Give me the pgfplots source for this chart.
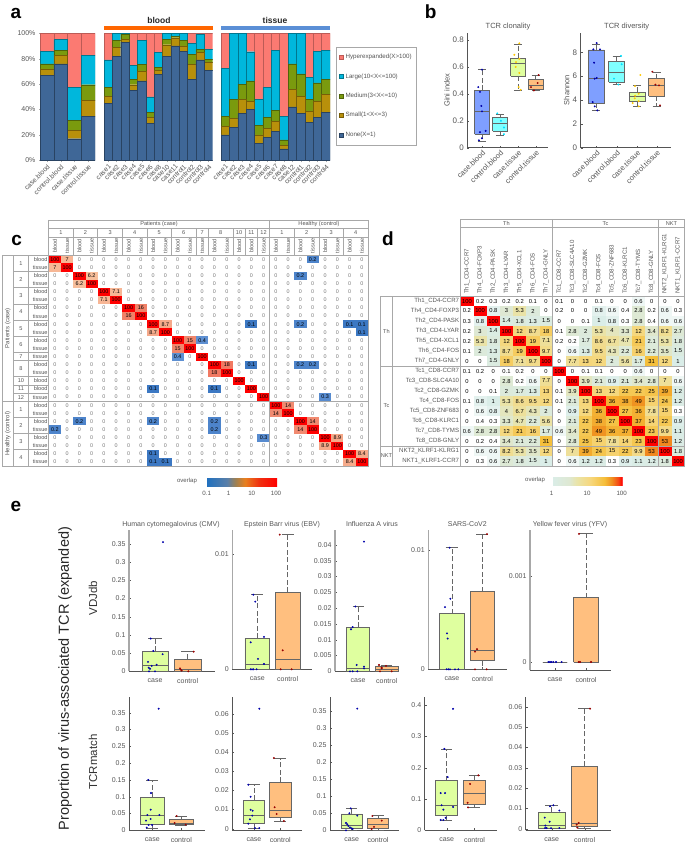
\documentclass[border=0pt]{standalone}
\usepackage{fontspec}
\setmainfont{Liberation Sans}
\usepackage{pgfplots}
\usepackage{pgfplotstable}
\pgfplotsset{compat=1.18}
\definecolor{cNone}{HTML}{3F6797}
\definecolor{cSmall}{HTML}{B8900B}
\definecolor{cMedium}{HTML}{7A9A0E}
\definecolor{cLarge}{HTML}{00B7DC}
\definecolor{cHyper}{HTML}{FB7A72}
\definecolor{txt}{HTML}{555555}
\definecolor{grid}{HTML}{A8A8A8}
\definecolor{boxedge}{HTML}{666666}
\definecolor{fCB}{HTML}{7F9FFF}
\definecolor{fCtB}{HTML}{7FFFFF}
\definecolor{fCT}{HTML}{DFFF9F}
\definecolor{fCtT}{HTML}{FFBF7F}
\definecolor{pCB}{HTML}{0000AA}
\definecolor{pCtB}{HTML}{00E0FF}
\definecolor{pCT}{HTML}{FFC800}
\definecolor{pCtT}{HTML}{990000}
\newcommand{\fsz}[1]{\fontsize{#1}{#1}\selectfont}
\pgfplotsset{
 place/.style n args={4}{at={(#1pt,-#2pt)},anchor=south west,width=#3pt,height=#4pt,scale only axis},
 every axis/.append style={/pgf/number format/assume math mode=true},
 colormap={cellc}{rgb255(0pt)=(255,255,255) rgb255(4pt)=(255,255,255) rgb255(5pt)=(60,120,195) rgb255(11pt)=(94,144,210) rgb255(15pt)=(160,150,170) rgb255(23pt)=(248,190,155) rgb255(27pt)=(240,130,105) rgb255(35pt)=(255,0,0)},
 colormap={cbarc}{rgb255(0pt)=(30,112,192) rgb255(30pt)=(90,127,168) rgb255(42pt)=(160,128,80) rgb255(55pt)=(232,128,32) rgb255(75pt)=(240,48,16) rgb255(100pt)=(255,0,0)},
 colormap={celld}{rgb255(0pt)=(255,255,255) rgb255(6pt)=(255,255,255) rgb255(10pt)=(218,237,232) rgb255(15pt)=(222,232,210) rgb255(17pt)=(233,228,170) rgb255(21pt)=(246,215,124) rgb255(25pt)=(245,190,58) rgb255(27pt)=(240,145,32) rgb255(29pt)=(245,70,20) rgb255(30pt)=(255,0,0)},
 colormap={cbard}{rgb255(0pt)=(218,237,232) rgb255(5pt)=(222,232,210) rgb255(7pt)=(233,228,170) rgb255(11pt)=(246,215,124) rgb255(15pt)=(245,190,58) rgb255(17pt)=(240,145,32) rgb255(19pt)=(245,70,20) rgb255(20pt)=(255,0,0)},
 barsA/.style={ybar stacked, ymin=0, ymax=100, axis x line*=bottom, xmin=-0.5,
   tick label style={color=txt,font=\fsz{7}}, xtick align=outside, xtick pos=bottom,
   xticklabel style={rotate=45,anchor=north east,font=\fsz{6.8},inner sep=1pt},
   x axis line style={color=grid}, tick style={color=grid}, major tick length=2pt,
   every axis plot/.append style={line width=0.4pt}},
 barsNoY/.style={barsA, axis y line=none},
 sB/.style={fill=cNone,draw=cNone!65!black}, sS/.style={fill=cSmall,draw=cSmall!65!black},
 sM/.style={fill=cMedium,draw=cMedium!65!black}, sL/.style={fill=cLarge,draw=cLarge!65!black},
 sH/.style={fill=cHyper,draw=cHyper!75!black},
 bxb/.style={axis lines=left, axis line style={-,color=txt,line width=0.5pt}, tick align=inside,
   tick style={color=txt}, major tick length=2pt, tick label style={color=txt,font=\fsz{8}},
   xticklabel style={rotate=45,anchor=north east,font=\fsz{7.5},inner sep=1pt}, enlargelimits=false, clip=false, ytick pos=left, xtick pos=bottom},
 bxe/.style={axis lines=left, axis line style={-}, tick align=inside,
   tick style={color=txt}, major tick length=2pt, tick label style={color=txt,font=\fsz{7}},
   enlargelimits=false, clip=false, scaled y ticks=false, ytick pos=left, xtick pos=bottom,
   yticklabel style={/pgf/number format/fixed,/pgf/number format/precision=3},
   xticklabel style={yshift=-4pt},
   xticklabels={case,control}},
 rowone/.style={bxe, x axis line style={color=txt,line width=0.5pt}, y axis line style={color=grid,line width=1.2pt}},
 rowtwo/.style={bxe, x axis line style={color=txt,line width=0.5pt}, y axis line style={color=txt,line width=0.5pt}},
 heat/.style={hide axis, y dir=reverse, clip=false, enlargelimits=false},
 cellplot/.style={scatter, only marks, point meta=explicit},
 cellnum/.style={only marks, mark=none, point meta=explicit symbolic,
   every node near coord/.append style={anchor=center,inner sep=0pt,font=\fsz{#1},text=black}},
}
% draw position, box width, cap width, lower whisker, q1, median, q3, upper whisker, fill
\newcommand{\bx}[9]{%
 \pgfmathsetmacro\bxXa{#1-#2/2}\pgfmathsetmacro\bxXb{#1+#2/2}%
 \pgfmathsetmacro\bxCa{#1-#3/2}\pgfmathsetmacro\bxCb{#1+#3/2}%
 \addplot[draw=boxedge,line width=0.7pt,dash pattern=on 5pt off 2.5pt] coordinates {(#1,#5)(#1,#4)};
 \addplot[draw=boxedge,line width=0.7pt,dash pattern=on 5pt off 2.5pt] coordinates {(#1,#7)(#1,#8)};
 \addplot[draw=boxedge,line width=0.7pt] coordinates {(\bxCa,#4)(\bxCb,#4)};
 \addplot[draw=boxedge,line width=0.7pt] coordinates {(\bxCa,#8)(\bxCb,#8)};
 \addplot[fill=#9,draw=boxedge,line width=0.7pt] coordinates {(\bxXa,#5)(\bxXb,#5)(\bxXb,#7)(\bxXa,#7)(\bxXa,#5)};
 \addplot[draw=boxedge,line width=0.7pt] coordinates {(\bxXa,#6)(\bxXb,#6)};
}
\newcommand{\pts}[2]{\addplot[only marks, mark=*, mark size=0.75pt, color=#1] coordinates {#2};}
\pgfdeclareplotmark{cellc}{\pgfsetfillcolor{mapped color}\pgfpathrectangle{\pgfqpoint{-6.14pt}{-4.05pt}}{\pgfqpoint{12.28pt}{8.1pt}}\pgfusepathqfill}
\pgfdeclareplotmark{celld}{\pgfsetfillcolor{mapped color}\pgfpathrectangle{\pgfqpoint{-6.6pt}{-5pt}}{\pgfqpoint{13.2pt}{10pt}}\pgfusepathqfill}

\pgfplotstableread{
none small medium large hyper
67 5 4 10 14
76 6.5 4 8.5 5
17 6.5 8 26 42.5
34.5 12.5 12.5 23 17.5
}\tabAleft
\pgfplotstableread{
none small medium large hyper
45 5.5 7 21.5 21
82 7 5.5 5.5 0
93 2.5 3.5 1 0
55 4.5 4 11.5 25
62.5 7.5 5.5 19 5.5
29 5 4 12 50
67.5 3.5 2 12 15
82 9 4.5 4.5 0
90 6.5 1 2.5 0
86 4 4.5 5.5 0
63.5 12 8 8.5 8
79 6 2.5 12 0.5
71 6 2.5 8 12.5
}\tabAblood
\pgfplotstableread{
none small medium large hyper
20 6.5 8 38 27.5
26 7 15 52 0
37 11 12 40 0
40 6.5 16 23 14.5
13.5 6.5 7.5 20.5 52
18 7 9 23.5 42.5
23 7.5 9 47 13.5
9 3 4 18.5 65.5
42 14 20 24 0
37 13.5 17.5 32 0
30 8.5 9.5 17.5 34.5
34 12.5 14.5 25 14
38 14 12 22.5 13.5
}\tabAtissue
\pgfplotstableread{
c0 c1 c2 c3 c4 c5 c6 c7 c8 c9 c10 c11 c12 c13 c14 c15 c16 c17 c18 c19 c20 c21 c22 c23 c24 c25
100 7 0 0 0 0  0 0 0 0 0 0  0 0 0 0 0 0  0 0 0 0.2 0 0 0 0
7 100 0 0 0 0  0 0 0 0 0 0  0 0 0 0 0 0  0 0 0 0 0 0 0 0
0 0 100 6.2 0 0  0 0 0 0 0 0  0 0 0 0 0 0  0 0 0.2 0 0 0 0 0
0 0 6.2 100 0 0  0 0 0 0 0 0  0 0 0 0 0 0  0 0 0 0 0 0 0 0
0 0 0 0 100 7.1  0 0 0 0 0 0  0 0 0 0 0 0  0 0 0 0 0 0 0 0
0 0 0 0 7.1 100  0 0 0 0 0 0  0 0 0 0 0 0  0 0 0 0 0 0 0 0
0 0 0 0 0 0  100 16 0 0 0 0  0 0 0 0 0 0  0 0 0 0 0 0 0 0
0 0 0 0 0 0  16 100 0 0 0 0  0 0 0 0 0 0  0 0 0 0 0 0 0 0
0 0 0 0 0 0  0 0 100 8.7 0 0  0 0 0 0 0.1 0  0 0 0.2 0 0 0 0.1 0.1
0 0 0 0 0 0  0 0 8.7 100 0 0  0 0 0 0 0 0  0 0 0 0 0 0 0 0.1
0 0 0 0 0 0  0 0 0 0 100 15  0.4 0 0 0 0 0  0 0 0 0 0 0 0 0
0 0 0 0 0 0  0 0 0 0 15 100  0 0 0 0 0 0  0 0 0 0 0 0 0 0
0 0 0 0 0 0  0 0 0 0 0.4 0  100 0 0 0 0 0  0 0 0 0 0 0 0 0
0 0 0 0 0 0  0 0 0 0 0 0  0 100 18 0 0.1 0  0 0 0.2 0.2 0 0 0 0
0 0 0 0 0 0  0 0 0 0 0 0  0 18 100 0 0 0  0 0 0 0 0 0 0 0
0 0 0 0 0 0  0 0 0 0 0 0  0 0 0 100 0 0  0 0 0 0 0 0 0 0
0 0 0 0 0 0  0 0 0.1 0 0 0  0 0.1 0 0 100 0  0 0 0 0 0 0 0 0
0 0 0 0 0 0  0 0 0 0 0 0  0 0 0 0 0 100  0 0 0 0 0.3 0 0 0
0 0 0 0 0 0  0 0 0 0 0 0  0 0 0 0 0 0  100 14 0 0 0 0 0 0
0 0 0 0 0 0  0 0 0 0 0 0  0 0 0 0 0 0  14 100 0 0 0 0 0 0
0 0 0.2 0 0 0  0 0 0.2 0 0 0  0 0.2 0 0 0 0  0 0 100 14 0 0 0 0
0.2 0 0 0 0 0  0 0 0 0 0 0  0 0.2 0 0 0 0  0 0 14 100 0 0 0 0
0 0 0 0 0 0  0 0 0 0 0 0  0 0 0 0 0 0.3  0 0 0 0 100 8.9 0 0
0 0 0 0 0 0  0 0 0 0 0 0  0 0 0 0 0 0  0 0 0 0 8.9 100 0 0
0 0 0 0 0 0  0 0 0.1 0 0 0  0 0 0 0 0 0  0 0 0 0 0 0 100 8.4
0 0 0 0 0 0  0 0 0.1 0.1 0 0  0 0 0 0 0 0  0 0 0 0 0 0 8.4 100
}\tabC
\pgfplotstableread{
c0 c1 c2 c3 c4 c5 c6 c7 c8 c9 c10 c11 c12 c13 c14 c15 c16
100 0.2 0.3 0.2 0.2 0.1 0  0.1 0 0 0.1 0 0 0.6 0  0 0
0.2 100 0.8 3 5.3 2 0  0.2 0 0 0.8 0.6 0.4 2.8 0.2  0.6 0.3
0.3 0.8 100 1.4 1.8 1.3 1.5  0 0 0.1 1 0.8 0.3 2.8 0.4  0.6 0.6
0.2 3 1.4 100 12 8.7 18  0.1 2.8 2 5.3 4 3.3 12 3.4  8.2 2.7
0.2 5.3 1.8 12 100 19 7.1  0.2 0.2 1.7 8.6 6.7 4.7 21 2.1  5.3 1.8
0.1 2 1.3 8.7 19 100 9.7  0 0.6 1.3 9.5 4.3 2.2 16 2.2  3.5 1.5
0 0 1.5 18 7.1 9.7 100  0 7.7 13 12 2 5.6 1.7 31  12 1
0.1 0.2 0 0.1 0.2 0 0  100 0 0.1 0.1 0 0 0.6 0  0 0
0 0 0 2.8 0.2 0.6 7.7  0 100 3.9 2.1 0.9 2.1 3.4 2.8  7 0.6
0 0 0.1 2 1.7 1.3 13  0.1 3.9 100 13 12 22 22 25  39 1.2
0.1 0.8 1 5.3 8.6 9.5 12  0.1 2.1 13 100 36 38 49 15  24 1.2
0 0.6 0.8 4 6.7 4.3 2  0 0.9 12 36 100 27 36 7.8  15 0.3
0 0.4 0.3 3.3 4.7 2.2 5.6  0 2.1 22 38 27 100 37 14  22 0.9
0.6 2.8 2.8 12 21 16 1.7  0.6 3.4 22 49 36 37 100 23  9.9 1.1
0 0.2 0.4 3.4 2.1 2.2 31  0 2.8 25 15 7.8 14 23 100  53 1.2
0 0.6 0.6 8.2 5.3 3.5 12  0 7 39 24 15 22 9.9 53  100 1.8
0 0.3 0.6 2.7 1.8 1.5 1  0 0.6 1.2 1.2 0.3 0.9 1.1 1.2  1.8 100
}\tabD

\begin{document}
\begin{tikzpicture}
\useasboundingbox (0pt,0pt) rectangle (685pt,-842pt);
% ---------------- panel a
\begin{axis}[place={40}{160.3}{55}{127}, barsA, xmax=3.5, bar width=13.75pt, axis y line=left, y axis line style={color=grid,-}, ytick={0,20,40,60,80,100},
  yticklabel={\pgfmathprintnumber{\tick}\%}, xtick={0,1,2,3}, xticklabels={case.blood,control.blood,case.tissue,control.tissue}]
\addplot[sB] table[x expr=\coordindex,y=none]{\tabAleft};
\addplot[sS] table[x expr=\coordindex,y=small]{\tabAleft};
\addplot[sM] table[x expr=\coordindex,y=medium]{\tabAleft};
\addplot[sL] table[x expr=\coordindex,y=large]{\tabAleft};
\addplot[sH] table[x expr=\coordindex,y=hyper]{\tabAleft};
\end{axis}
\begin{axis}[place={104}{160.3}{108.7}{127}, barsNoY, xmax=12.5, bar width=8.36pt, xtick={0,...,12},
  xticklabels={case1,case2,case3,case4,case5,case6,case8,case10,case11,control1,control2,control3,control4}]
\addplot[sB] table[x expr=\coordindex,y=none]{\tabAblood};
\addplot[sS] table[x expr=\coordindex,y=small]{\tabAblood};
\addplot[sM] table[x expr=\coordindex,y=medium]{\tabAblood};
\addplot[sL] table[x expr=\coordindex,y=large]{\tabAblood};
\addplot[sH] table[x expr=\coordindex,y=hyper]{\tabAblood};
\end{axis}
\begin{axis}[place={221}{160.3}{109}{127}, barsNoY, xmax=12.5, bar width=8.38pt, xtick={0,...,12},
  xticklabels={case1,case2,case3,case4,case5,case6,case7,case8,case12,control1,control2,control3,control4},
  reverse legend, legend cell align=left,
  legend style={at={(1.055,0.892)},anchor=north west,draw=grid,font=\fsz{6.2},text=txt,row sep=9.4pt,inner xsep=3pt,inner ysep=5pt,/tikz/every even column/.append style={column sep=1pt}},
  legend image code/.code={\draw[#1] (0cm,-0.07cm) rectangle (0.14cm,0.07cm);}]
\addplot[sB] table[x expr=\coordindex,y=none]{\tabAtissue};
\addplot[sS] table[x expr=\coordindex,y=small]{\tabAtissue};
\addplot[sM] table[x expr=\coordindex,y=medium]{\tabAtissue};
\addplot[sL] table[x expr=\coordindex,y=large]{\tabAtissue};
\addplot[sH] table[x expr=\coordindex,y=hyper]{\tabAtissue};
\legend{None(X=1),Small(1<X<=3),Medium(3<X<=10),Large(10<X<=100),Hyperexpanded(X>100)}
\end{axis}
% ---------------- panel b
\begin{axis}[place={467.3}{147.7}{81}{115}, bxb, xmin=142, xmax=385, ymin=0, ymax=0.854, ytick={0,0.2,0.4,0.6,0.8}, xtick={186,240,294,347}, xticklabels={case.blood,control.blood,case.tissue,control.tissue}]
\bx{186}{44}{24}{0.05}{0.10}{0.27}{0.425}{0.58}{fCB}
\bx{240}{44}{24}{0.095}{0.125}{0.18}{0.225}{0.25}{fCtB}
\bx{294}{44}{24}{0.425}{0.53}{0.63}{0.665}{0.77}{fCT}
\bx{347}{44}{24}{0.425}{0.435}{0.465}{0.51}{0.54}{fCtT}
\pts{pCB}{(177,0.055)(186,0.07)(180,0.115)(197,0.125)(186,0.27)(184,0.31)(180,0.415)(175,0.45)(186,0.58)}
\pts{pCtB}{(252,0.1)(252,0.15)(243,0.2)(232,0.255)}
\pts{pCT}{(302,0.43)(296,0.45)(298,0.555)(287,0.6)(288,0.635)(298,0.66)(283,0.69)(298,0.775)}
\pts{pCtT}{(342,0.425)(333,0.45)(353,0.48)(356,0.54)}
\end{axis}
\begin{axis}[place={580.7}{147.7}{90}{115}, bxb, xmin=482, xmax=752, ymin=0, ymax=9.65, ytick={0,2,4,6,8}, xtick={529,590,651,710}, xticklabels={case.blood,control.blood,case.tissue,control.tissue}]
\bx{529}{48}{24}{3.15}{3.75}{5.8}{8.2}{8.7}{fCB}
\bx{590}{48}{24}{5.3}{5.5}{6.3}{7.25}{7.7}{fCtB}
\bx{651}{48}{24}{3.45}{3.85}{4.3}{4.65}{5.2}{fCT}
\bx{710}{48}{24}{3.5}{4.35}{5.2}{5.8}{6.35}{fCtT}
\pts{pCB}{(532,3.13)(524,3.47)(518,3.83)(524,5.79)(530,5.85)(522,7.13)(540,8.25)(520,8.25)(530,8.78)}
\pts{pCtB}{(595,5.3)(582,5.8)(605,7.0)(603,7.7)}
\pts{pCT}{(656,3.47)(638,3.75)(656,3.9)(644,4.14)(645,4.36)(656,4.53)(645,5.17)(661,6.1)}
\pts{pCtT}{(720,3.55)(717,5.23)(706,5.29)(697,6.38)}
\end{axis}
% ---------------- panel c
\begin{axis}[place={48.7}{466}{319.3}{210.7}, heat, xmin=-0.5, xmax=25.5, ymin=-0.5, ymax=25.5, colormap name=cellc, point meta min=-1.5, point meta max=2]
\pgfplotsinvokeforeach{0,...,25}{
\addplot[cellplot, mark=cellc] table[x expr=#1, y expr=\coordindex, meta expr={log10(max(\thisrow{c#1},0.03))}]{\tabC};
}
\pgfplotsinvokeforeach{0,...,25}{
\addplot[cellnum=5.4, nodes near coords={\ifnum\strcmp{\pgfplotspointmeta}{0}=0 \textcolor{txt!80}{0}\else\pgfplotspointmeta\fi}]
  table[x expr=#1, y expr=\coordindex, meta=c#1]{\tabC};
}
\end{axis}
% ---------------- panel d
\begin{axis}[place={460.3}{466}{224.4}{170}, heat, xmin=-0.5, xmax=16.5, ymin=-0.5, ymax=16.5, colormap name=celld, point meta min=-1, point meta max=2]
\pgfplotsinvokeforeach{0,...,16}{
\addplot[cellplot, mark=celld] table[x expr=#1, y expr=\coordindex, meta expr={log10(max(\thisrow{c#1},0.03))}]{\tabD};
}
\pgfplotsinvokeforeach{0,...,16}{
\addplot[cellnum=5.8, nodes near coords={\pgfplotspointmeta}]
  table[x expr=#1, y expr=\coordindex, meta=c#1]{\tabD};
}
\end{axis}
% colour bars
\pgfplotscolorbardrawstandalone[colormap name=cbarc, colorbar horizontal, point meta min=-1, point meta max=2,
 colorbar style={at={(206pt,-478pt)},anchor=south west,width=71pt,height=8pt,xtick=\empty,major tick length=0pt,axis line style={draw=none}}]
\pgfplotscolorbardrawstandalone[colormap name=cbard, colorbar horizontal, point meta min=1, point meta max=3,
 colorbar style={at={(552pt,-476.7pt)},anchor=south west,width=70pt,height=7.5pt,xtick=\empty,major tick length=0pt,axis line style={draw=none}}]
% ---------------- panel e, VDJdb
\begin{axis}[place={129}{671.3}{86}{141.3}, rowone, xmin=267, xmax=525, ymin=0, ymax=0.3885, ytick={0,0.05,0.1,0.15,0.2,0.25,0.3,0.35}, xtick={345,443}]
\bx{345}{78}{40}{0}{0}{0.0155}{0.055}{0.09}{fCT}
\bx{443}{80}{40}{0}{0}{0.006}{0.033}{0.055}{fCtT}
\pts{pCB}{(369,0.355)(332,0.09)(340,0.056)(368,0.047)(324,0.026)(335,0.015)(350,0.018)(326,0.01)(327,0)(345,0)(330,0.007)}
\pts{pCtT}{(461,0.054)(422,0.005)(420,0.008)(425,0.002)(445,0)}
\end{axis}
\begin{axis}[place={232.3}{669.3}{79.4}{139.3}, rowone, xmin=577, xmax=815, ymin=0, ymax=0.01204, ytick={0,0.01}, xtick={652,743}]
\bx{652}{74}{36}{0}{0}{0.00046}{0.0027}{0.00645}{fCT}
\bx{743}{74}{36}{0}{0}{0.00084}{0.00666}{0.01164}{fCtT}
\pts{pCB}{(640,0.00645)(646,0.00585)(632,0.00233)(672,0.0028)(654,0.0009)(672,0.00046)(632,0)(636,0)(640,0)(650,0)}
\pts{pCtT}{(719,0.01164)(728,0.00164)(722,0)(755,0)}
\end{axis}
\begin{axis}[place={335}{671.3}{64}{141.3}, rowone, xmin=335, xmax=399, ymin=0, ymax=0.0447, ytick={0,0.005,0.01,0.015,0.02,0.025,0.03,0.035,0.04}, xtick={358,386.7}]
\bx{358}{22.6}{11}{0}{0}{0.00095}{0.0139}{0.0205}{fCT}
\bx{386.7}{23}{11}{0}{0}{0.0005}{0.00146}{0.002}{fCtT}
\pts{pCB}{(364,0.041)(355.3,0.0205)(352.7,0.014)(351,0.0133)(356.7,0.002)(364,0.0009)(350,0)(352.7,0)(357.3,0)(364,0.0015)}
\pts{pCtT}{(379,0.002)(381.7,0.0009)(380,0)(391.7,0)(386,0.0017)(381.7,0.0012)}
\end{axis}
\begin{axis}[place={428.3}{669.3}{78.4}{139.3}, rowone, xmin=235, xmax=470, ymin=0, ymax=0.01165, ytick={0,0.01}, xtick={306,397}]
\bx{306}{73}{38}{0}{0}{0}{0.00464}{0.01017}{fCT}
\bx{397}{72}{36}{0}{0.00073}{0.00156}{0.0065}{0.0113}{fCtT}
\pts{pCB}{(299,0.01017)(301,0.0059)(285,0.0052)(291,0.003)(293,0.00257)(290,0)(295,0)(300,0)(315,0)(325,0)}
\pts{pCtT}{(411,0.0113)(381,0.00168)(375,0.00148)(375,0)(410,0)}
\end{axis}
\begin{axis}[place={530}{670.3}{81}{140.3}, rowone, xmin=540, xmax=783, ymin=-0.0000962, ymax=0.00153, ytick={0,0.001}, xtick={615,708}]
\bx{615}{74}{74}{0}{0}{0}{0}{0}{fCT}
\bx{708}{74}{40}{0}{0}{0}{0.000745}{0.001486}{fCtT}
\pts{pCB}{(595,0)(600,0)(605,0)(610,0)(618,0)(635,0)}
\pts{pCtT}{(687,0.001486)(686,0)(690,0)(723,0)}
\end{axis}
% ---------------- panel e, TCRmatch
\begin{axis}[place={129}{830.3}{76}{133.6}, rowtwo, xmin=267, xmax=495, ymin=0, ymax=0.3976, ytick={0,0.05,0.1,0.15,0.2,0.25,0.3,0.35}, xtick={337,424}]
\bx{337}{72}{36}{0.005}{0.018}{0.045}{0.098}{0.148}{fCT}
\bx{424}{72}{36}{0.015}{0.018}{0.022}{0.032}{0.042}{fCtT}
\pts{pCB}{(356,0.362)(325,0.15)(333,0.111)(332,0.0615)(358,0.0456)(322,0.0456)(332,0.0337)(318,0.0288)(336,0.0159)(326,0.0159)(320,0.008)}
\pts{pCtT}{(410,0.0426)(404,0.0218)(437,0.0169)}
\end{axis}
\begin{axis}[place={232.3}{830.3}{69.3}{133.6}, rowtwo, xmin=577, xmax=785, ymin=-0.00087, ymax=0.0691, ytick={0,0.01,0.02,0.03,0.04,0.05,0.06}, xtick={642,721}]
\bx{642}{64}{36}{0.0003}{0.003}{0.007}{0.015}{0.023}{fCT}
\bx{721}{64}{36}{0.004}{0.0058}{0.0095}{0.0242}{0.037}{fCtT}
\pts{pCB}{(658,0.0628)(625,0.023)(632,0.0167)(632,0.0099)(638,0.0094)(637,0.0068)(630,0.0049)(625,0.0026)(645,0.0003)(658,0.0003)}
\pts{pCtT}{(702,0.037)(704,0.0112)(710,0.0077)(732,0.004)}
\end{axis}
\begin{axis}[place={330}{830.3}{69.3}{133.6}, rowtwo, xmin=330, xmax=399.3, ymin=0, ymax=0.392, ytick={0,0.05,0.1,0.15,0.2,0.25,0.3,0.35}, xtick={351.7,378}]
\bx{351.7}{21.3}{11}{0}{0.005}{0.015}{0.048}{0.063}{fCT}
\bx{378}{21.4}{11}{0.001}{0.005}{0.018}{0.035}{0.044}{fCtT}
\pts{pCB}{(357.3,0.357)(350.7,0.0645)(349.3,0.05)(357.3,0.043)(346,0.0215)(347.3,0.0176)(348.3,0.0127)(350,0.0088)(351.7,0.0059)(346,0)(352.7,0.0039)}
\pts{pCtT}{(372.3,0.042)(381.7,0.0283)(374,0.01)(371.7,0.004)}
\end{axis}
\begin{axis}[place={424.7}{830.3}{72}{133.6}, rowtwo, xmin=224, xmax=440, ymin=0, ymax=0.4266, ytick={0,0.1,0.2,0.3,0.4}, xtick={290,373.5}]
\bx{290}{66}{34}{0.032}{0.047}{0.08}{0.158}{0.26}{fCT}
\bx{373.5}{66}{34}{0.073}{0.082}{0.117}{0.16}{0.175}{fCtT}
\pts{pCB}{(309,0.388)(283,0.26)(293,0.17)(272,0.119)(285,0.119)(275,0.08)(309,0.0745)(280,0.066)(287,0.04)(272,0.033)(280,0.033)}
\pts{pCtT}{(385,0.1755)(360,0.148)(353,0.088)(354,0.073)}
\end{axis}
\begin{axis}[place={525.7}{830.3}{85.3}{133.6}, rowtwo, xmin=527, xmax=783, ymin=-0.00082, ymax=0.0649, ytick={0,0.01,0.02,0.03,0.04,0.05,0.06}, xtick={605,704}]
\bx{605}{79}{40}{0}{0}{0.0015}{0.008}{0.0115}{fCT}
\bx{704}{79}{40}{0.0003}{0.001}{0.0025}{0.0308}{0.059}{fCtT}
\pts{pCB}{(610,0.0115)(600,0.011)(628,0.0089)(584,0.0054)(599,0.0034)(586,0.0015)(590,0.0003)(585,0.0003)(603,0.0002)(628,0.0003)}
\pts{pCtT}{(720,0.059)(686,0.0028)(680,0.002)(682,0.0005)}
\end{axis}
% ---------------- overlay text and frames, in image pixels
\begin{scope}[x=1pt,y=-1pt]
\foreach \l/\x/\y in {a/16/19,b/430.7/18.5,c/16.7/245,d/388/245,e/16/511}{
  \node[anchor=base,inner sep=0pt,font=\bfseries\fsz{19}] at (\x,\y) {\l};}
% a
\fill[fill={rgb,255:red,255;green,102;blue,0}] (104,26) rectangle (212.7,30);
\fill[fill={rgb,255:red,91;green,143;blue,214}] (221,26) rectangle (330,30);
\node[font=\bfseries\fsz{8.5},text=black!85] at (159,20) {blood};
\node[font=\bfseries\fsz{8.5},text=black!85] at (275,20) {tissue};
% b
\node[font=\fsz{7.5},text=txt] at (508,27) {TCR clonality};
\node[font=\fsz{7.5},text=txt] at (626.7,27) {TCR diversity};
\node[font=\fsz{7.5},text=txt,rotate=90] at (447,90) {Gini index};
\node[font=\fsz{7.5},text=txt,rotate=90] at (566.7,90) {Shannon};
% c frame
\begin{scope}[draw=grid,line width=0.7pt]
\draw (48.7,220) -- (368,220) -- (368,466) -- (2,466) -- (2,255.3) -- (368,255.3);
\draw (48.7,220) -- (48.7,466);
\draw (48.7,228.5) -- (368,228.5);
\draw (48.7,237) -- (368,237);
\draw (269.7,220) -- (269.7,466);
\draw (2,401) -- (368,401);
\draw (13.5,255.3) -- (13.5,466);
\draw (28.3,255.3) -- (28.3,466);
\foreach \c in {2,4,6,8,10,12,13,15,16,17,20,22,24}{
  \draw ({48.7+\c*12.28},228.5) -- ({48.7+\c*12.28},255.3);}
\foreach \r in {2,4,6,8,10,12,13,15,16,17,20,22,24}{
  \draw (13.5,{255.3+\r*8.1}) -- (48.7,{255.3+\r*8.1});}
\end{scope}
\begin{scope}[every node/.style={font=\fsz{5.6},text=txt,inner sep=0pt}]
\node at (159,224.3) {Patients (case)};
\node at (319,224.3) {Healthy (control)};
\foreach \lab/\pos in {1/1,2/3,3/5,4/7,5/9,6/11,7/12.5,8/14,10/15.5,11/16.5,12/17.5,1/19,2/21,3/23,4/25}{
  \node at ({48.7+\pos*12.28},232.8) {\lab};
  \node at (21,{255.3+\pos*8.1}) {\lab};}
\foreach \lab [count=\i from 0] in {blood,tissue,blood,tissue,blood,tissue,blood,tissue,blood,tissue,blood,tissue,tissue,blood,tissue,blood,blood,tissue,blood,tissue,blood,tissue,blood,tissue,blood,tissue}{
  \node[rotate=90] at ({48.7+(\i+0.5)*12.28},246) {\lab};
  \node[anchor=east] at (47.7,{255.3+(\i+0.5)*8.1}) {\lab};}
\node[rotate=90,font=\fsz{6}] at (7.7,328) {Patients (case)};
\node[rotate=90,font=\fsz{6}] at (7.7,433.5) {Healthy (control)};
\node[font=\fsz{6}] at (187,481) {overlap};
\node[font=\fsz{6}] at (535,480) {overlap};
\foreach \lab/\x in {0.1/206.7,1/228.7,10/251.7,100/276,1/551.7,10/587,100/621.7}{
  \node[font=\fsz{6.2}] at (\x,493.3) {\lab};}
\end{scope}
% d frame
\begin{scope}[draw=grid,line width=0.7pt]
\draw (460.3,219) -- (684.7,219) -- (684.7,466) -- (380.5,466) -- (380.5,296) -- (684.7,296);
\draw (460.3,219) -- (460.3,466);
\draw (460.3,227.5) -- (684.7,227.5);
\draw (392.7,296) -- (392.7,466);
\draw (552.7,219) -- (552.7,466);
\draw (658.3,219) -- (658.3,466);
\draw (380.5,366) -- (684.7,366);
\draw (380.5,446) -- (684.7,446);
\end{scope}
\begin{scope}[every node/.style={font=\fsz{5.6},text=txt,inner sep=0pt}]
\node at (506.5,223.3) {Th};
\node at (605.5,223.3) {Tc};
\node at (671.5,223.3) {NKT};
\node at (386.5,331) {Th};
\node at (386.5,406) {Tc};
\node at (386.5,456) {NKT};
\foreach \lab [count=\i from 0] in {Th1\_CD4-CCR7,Th4\_CD4-FOXP3,Th2\_CD4-PASK,Th3\_CD4-LYAR,Th5\_CD4-XCL1,Th6\_CD4-FOS,Th7\_CD4-GNLY,Tc1\_CD8-CCR7,Tc3\_CD8-SLC4A10,Tc2\_CD8-GZMK,Tc4\_CD8-FOS,Tc5\_CD8-ZNF683,Tc6\_CD8-KLRC1,Tc7\_CD8-TYMS,Tc8\_CD8-GNLY,NKT2\_KLRF1-KLRG1,NKT1\_KLRF1-CCR7}{
  \node[rotate=90,anchor=west,font=\fsz{6.1}] at ({460.3+(\i+0.5)*13.2},294) {\lab};
  \node[anchor=east,font=\fsz{6.1}] at (459.3,{296+(\i+0.5)*10}) {\lab};}
\end{scope}
% e
\begin{scope}[every node/.style={font=\fsz{7},text=txt,inner sep=0pt}]
\node at (171,524.3) {Human cytomegalovirus (CMV)};
\node at (282,524.3) {Epstein Barr virus (EBV)};
\node at (372,524.3) {Influenza A virus};
\node at (467.3,524.3) {SARS-CoV2};
\node at (570,524.3) {Yellow fever virus (YFV)};
\end{scope}
\node[rotate=90,font=\fsz{11.5},text=black!80] at (93,598) {VDJdb};
\node[rotate=90,font=\fsz{11.5},text=black!80] at (93,762) {TCRmatch};
\node[rotate=90,font=\fsz{14.5},text=black!85] at (65,678.5) {Proportion of virus-associated TCR (expanded)};
\end{scope}
\end{tikzpicture}
\end{document}
